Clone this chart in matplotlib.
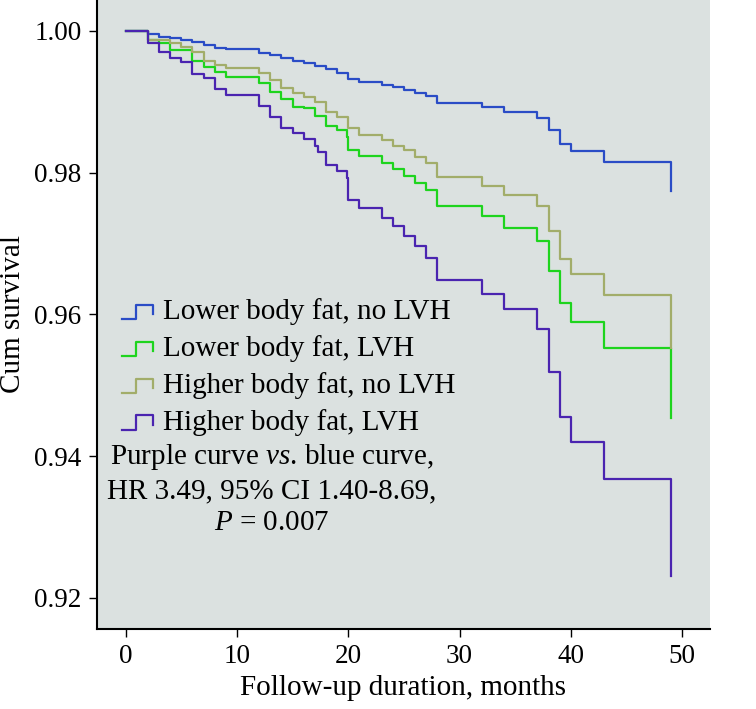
import matplotlib
matplotlib.use("Agg")
import matplotlib.pyplot as plt
from matplotlib.lines import Line2D
from matplotlib.legend_handler import HandlerBase

plt.rcParams['font.family'] = ['Liberation Serif', 'DejaVu Serif']
plt.rcParams['mathtext.fontset'] = 'custom'
plt.rcParams['mathtext.rm'] = 'Liberation Serif'
plt.rcParams['mathtext.it'] = 'Liberation Serif:italic'

# ---- data (months, cumulative survival) ----
blue_t = [0, 2, 3, 4, 5, 6, 7, 8, 9, 12, 13, 14, 15, 16, 17, 18, 19, 20, 21, 23, 24,
          25, 26, 27, 28, 32, 34, 37, 38, 39, 40, 43, 49]
blue_s = [1.0, 0.99954, 0.9992, 0.99897, 0.99873, 0.99841, 0.99803, 0.99765, 0.99746,
          0.99694, 0.99662, 0.99615, 0.99582, 0.99554, 0.99507, 0.9946, 0.99404, 0.9932,
          0.99286, 0.99239, 0.99207, 0.99169, 0.99123, 0.99085, 0.98982, 0.98925,
          0.98863, 0.9877, 0.98596, 0.98408, 0.983, 0.98151, 0.97737]

green_t = [0, 2, 3, 4, 6, 7, 8, 9, 12, 13, 14, 15, 16, 17, 18, 19, 19.9, 20, 21, 23, 24,
           25, 26, 27, 28, 32, 34, 37, 38, 39, 40, 43, 49]
green_s = [1.0, 0.99873, 0.99827, 0.99732, 0.99577, 0.99497, 0.99427, 0.99356, 0.99272,
           0.99145, 0.99038, 0.98934, 0.98908, 0.98803, 0.98662, 0.98596, 0.98500, 0.98324,
           0.9823, 0.98137, 0.98052, 0.97948, 0.97855, 0.97751, 0.97525, 0.97385, 0.97221,
           0.97032, 0.9661, 0.96155, 0.95892, 0.95521, 0.94545]

olive_t = [0, 2, 4, 5, 6, 7, 8, 9, 12, 13, 14, 15, 16, 17, 18, 19, 20, 21, 23, 24,
           25, 26, 27, 28, 32, 34, 37, 38, 39, 40, 43, 49]
olive_s = [1.0, 0.99873, 0.99827, 0.99779, 0.99704, 0.99577, 0.9952, 0.99482, 0.99404,
           0.9931, 0.99193, 0.99123, 0.99075, 0.99004, 0.98863, 0.98793, 0.9863, 0.98535,
           0.98465, 0.9838, 0.98314, 0.98221, 0.98137, 0.9794, 0.97817, 0.9769, 0.97525,
           0.97173, 0.96784, 0.96577, 0.96268, 0.9553]

purple_t = [0, 2, 3, 4, 5, 6, 7, 8, 9, 12, 13, 14, 15, 16, 17, 17.3, 18, 19, 19.9, 20, 21,
            23, 24, 25, 26, 27, 28, 32, 34, 37, 38, 39, 40, 43, 49]
purple_s = [1.0, 0.99827, 0.99708, 0.99615, 0.99563, 0.99394, 0.9934, 0.99183, 0.99092,
            0.9894, 0.98793, 0.9863, 0.98559, 0.98479, 0.9837, 0.98296, 0.98113, 0.98018,
            0.97925, 0.9762, 0.97503, 0.97362, 0.97244, 0.97103, 0.96962, 0.96799, 0.96479,
            0.96292, 0.9607, 0.95789, 0.95187, 0.94554, 0.94201, 0.93676, 0.92314]

labels = ["Lower body fat, no LVH", "Lower body fat, LVH",
          "Higher body fat, no LVH", "Higher body fat, LVH"]
colors = ["#2a4cc6", "#1ed41e", "#a2ad6a", "#4a24b0"]

x_ticks = [0, 10, 20, 30, 40, 50]
y_ticks = [0.92, 0.94, 0.96, 0.98, 1.00]


class StepHandler(HandlerBase):
    def create_artists(self, legend, orig_handle, xdescent, ydescent, width,
                       height, fontsize, trans):
        x0, y0 = -xdescent, -ydescent
        xs = [x0, x0 + 0.45 * width, x0 + 0.45 * width, x0 + width, x0 + width]
        ys = [y0 + 0.0 * height, y0 + 0.0 * height, y0 + 0.7 * height,
              y0 + 0.7 * height, y0 + 0.25 * height]
        ln = Line2D(xs, ys, color=orig_handle.get_color(), lw=1.6)
        ln.set_transform(trans)
        return [ln]


fig = plt.figure(figsize=(7.56, 7.09), dpi=100)
ax = fig.add_axes([0.128, 0.113, 0.811, 0.887])
ax.set_facecolor("#dbe1e0")

handles = []
for t, s, c, lab in zip([blue_t, green_t, olive_t, purple_t],
                        [blue_s, green_s, olive_s, purple_s], colors, labels):
    h, = ax.step(t, s, where='post', color=c, lw=1.6, label=lab)
    handles.append(h)

ax.set_xlim(-2.6, 52.5)
ax.set_ylim(0.91563, 1.00437)
ax.set_xticks(x_ticks)
ax.set_xticklabels([str(v) for v in x_ticks])
ax.set_yticks(y_ticks)
ax.set_yticklabels([f"{v:.2f}" for v in y_ticks])
ax.tick_params(axis='both', labelsize=19.5, length=6, width=1, direction='out', pad=5)
for sp in ['top', 'right']:
    ax.spines[sp].set_visible(False)
for sp in ['left', 'bottom']:
    ax.spines[sp].set_linewidth(1.5)

ax.set_xlabel("Follow-up duration, months", fontsize=21, labelpad=4)
ax.set_ylabel("Cum survival", fontsize=21)
ax.yaxis.set_label_coords(-0.116, 0.5)

leg = ax.legend(handles=handles, labels=labels, handler_map={Line2D: StepHandler()},
                loc='upper left', bbox_to_anchor=(0.041, 0.526), frameon=False,
                fontsize=21, handlelength=1.07, handletextpad=0.35, labelspacing=0.34,
                borderaxespad=0, borderpad=0)

ax.text(0.285, 0.222, "Purple curve $vs$. blue curve,\nHR 3.49, 95% CI 1.40-8.69,\n$P$ = 0.007",
        transform=ax.transAxes, ha='center', va='center', fontsize=21,
        linespacing=1.3)

fig.savefig("out.png", dpi=100)
